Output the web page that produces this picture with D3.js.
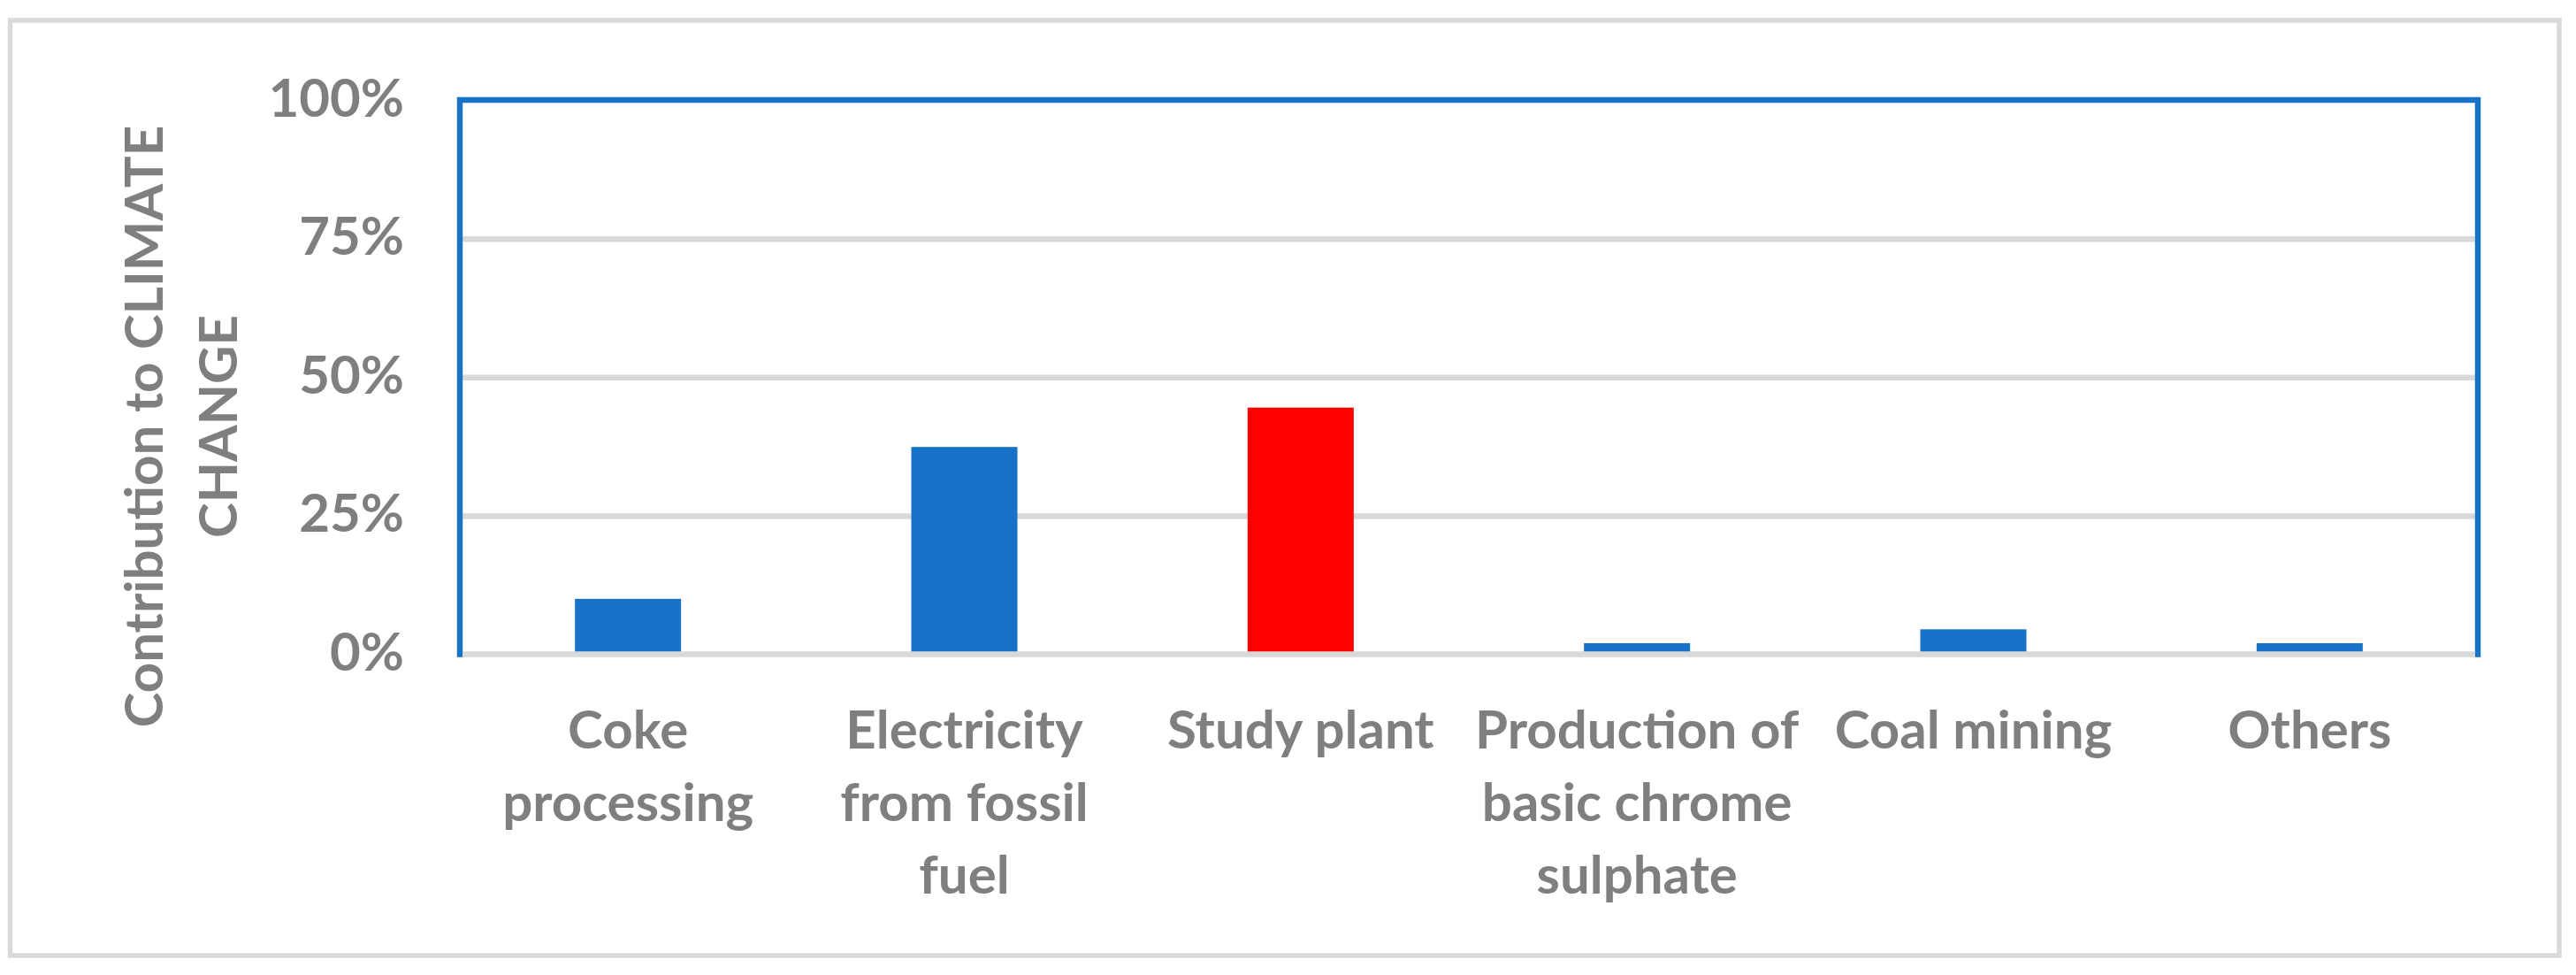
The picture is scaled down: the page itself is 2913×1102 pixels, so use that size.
<!DOCTYPE html>
<html>
<head>
<meta charset="utf-8">
<script src="https://cdn.jsdelivr.net/npm/d3@7"></script>
<style>
  html, body { margin: 0; padding: 0; background: #ffffff; }
  svg { display: block; }
  text { font-family: Lato, "Open Sans", "DejaVu Sans", sans-serif; font-weight: 700; fill: #7f7f7f; }
</style>
</head>
<body>
<svg id="chart" width="2913" height="1102"></svg>
<script>
// ---- data ----
const categories = ["Coke processing", "Electricity from fossil fuel", "Study plant",
                    "Production of basic chrome sulphate", "Coal mining", "Others"];
const categoryLabelLines = [["Coke", "processing"], ["Electricity", "from fossil", "fuel"], ["Study plant"],
                            ["Production of", "basic chrome", "sulphate"], ["Coal mining"], ["Others"]];
const contribution = [0.100, 0.374, 0.445, 0.020, 0.045, 0.020];
const highlighted = ["Study plant"];
const yTicks = [0, 0.25, 0.5, 0.75, 1];
const yTitleLines = ["Contribution to CLIMATE", "CHANGE"];

// ---- layout ----
const W = 2913, H = 1102;
const plot = { left: 520, right: 2802, top: 113, bottom: 739.5 };
const blue = "#1873c8", red = "#ff0000", grid = "#d9d9d9";
const lineW = 6.5;
const fontSize = 60;

const svg = d3.select("#chart");
svg.append("rect").attr("width", W).attr("height", H).attr("fill", "#fff");

// outer chart border
svg.append("rect")
  .attr("x", 11.5).attr("y", 23).attr("width", 2894 - 11.5).attr("height", 1080 - 23)
  .attr("fill", "none").attr("stroke", grid).attr("stroke-width", 5.5);

const x = d3.scaleBand().domain(categories).range([plot.left, plot.right]).padding(0);
const y = d3.scaleLinear().domain([0, 1]).range([plot.bottom, plot.top]);
const barW = x.bandwidth() * 0.3155;

// gridlines (interior)
const gridAxis = d3.axisLeft(y).tickValues(yTicks.filter(t => t > 0 && t < 1))
  .tickSize(-(plot.right - plot.left - lineW)).tickFormat("");
svg.append("g").attr("transform", `translate(${plot.left + lineW / 2},0)`)
  .call(gridAxis)
  .call(g => g.select(".domain").remove())
  .call(g => g.selectAll("line").attr("stroke", grid).attr("stroke-width", lineW));

// bars
svg.append("g").selectAll("rect").data(categories).join("rect")
  .attr("x", d => x(d) + (x.bandwidth() - barW) / 2)
  .attr("width", barW)
  .attr("y", (d, i) => y(contribution[i]))
  .attr("height", (d, i) => y(0) - y(contribution[i]))
  .attr("fill", d => highlighted.includes(d) ? red : blue);

// plot-area border (left, top, right)
svg.append("path")
  .attr("d", `M${plot.left},${plot.bottom + lineW / 2}V${plot.top}H${plot.right}V${plot.bottom + lineW / 2}`)
  .attr("fill", "none").attr("stroke", blue).attr("stroke-width", lineW);

// horizontal axis line at 0
svg.append("line")
  .attr("x1", plot.left + lineW / 2).attr("x2", plot.right - lineW / 2)
  .attr("y1", y(0)).attr("y2", y(0))
  .attr("stroke", grid).attr("stroke-width", lineW);

// y tick labels
const yAxis = d3.axisLeft(y).tickValues(yTicks).tickFormat(d3.format(".0%")).tickSize(0).tickPadding(63);
svg.append("g").attr("transform", `translate(${plot.left},0)`)
  .call(yAxis)
  .call(g => g.select(".domain").remove())
  .call(g => g.selectAll("text")
    .attr("font-size", fontSize).attr("fill", "#7f7f7f")
    .attr("font-family", "Lato, 'Open Sans', sans-serif").attr("font-weight", 700)
    .attr("dy", "0.30em"));

// x tick labels (wrapped)
const xAxis = d3.axisBottom(x).tickSize(0).tickFormat("");
const xg = svg.append("g").attr("transform", `translate(0,${plot.bottom})`).call(xAxis);
xg.select(".domain").remove();
xg.selectAll(".tick").each(function(d, i) {
  const t = d3.select(this).append("text")
    .attr("text-anchor", "middle").attr("font-size", fontSize)
    .attr("fill", "#7f7f7f").attr("font-weight", 700)
    .attr("font-family", "Lato, 'Open Sans', sans-serif");
  categoryLabelLines[i].forEach((line, j) => {
    t.append("tspan").attr("x", 0).attr("y", 106 + j * 82).text(line);
  });
});

// y-axis title
const titleCenterY = 482;
const title = svg.append("text")
  .attr("transform", "rotate(-90)")
  .attr("text-anchor", "middle")
  .attr("font-size", fontSize);
yTitleLines.forEach((line, j) => {
  title.append("tspan").attr("x", -titleCenterY).attr("y", 184 + j * 84).text(line);
});
</script>
</body>
</html>
